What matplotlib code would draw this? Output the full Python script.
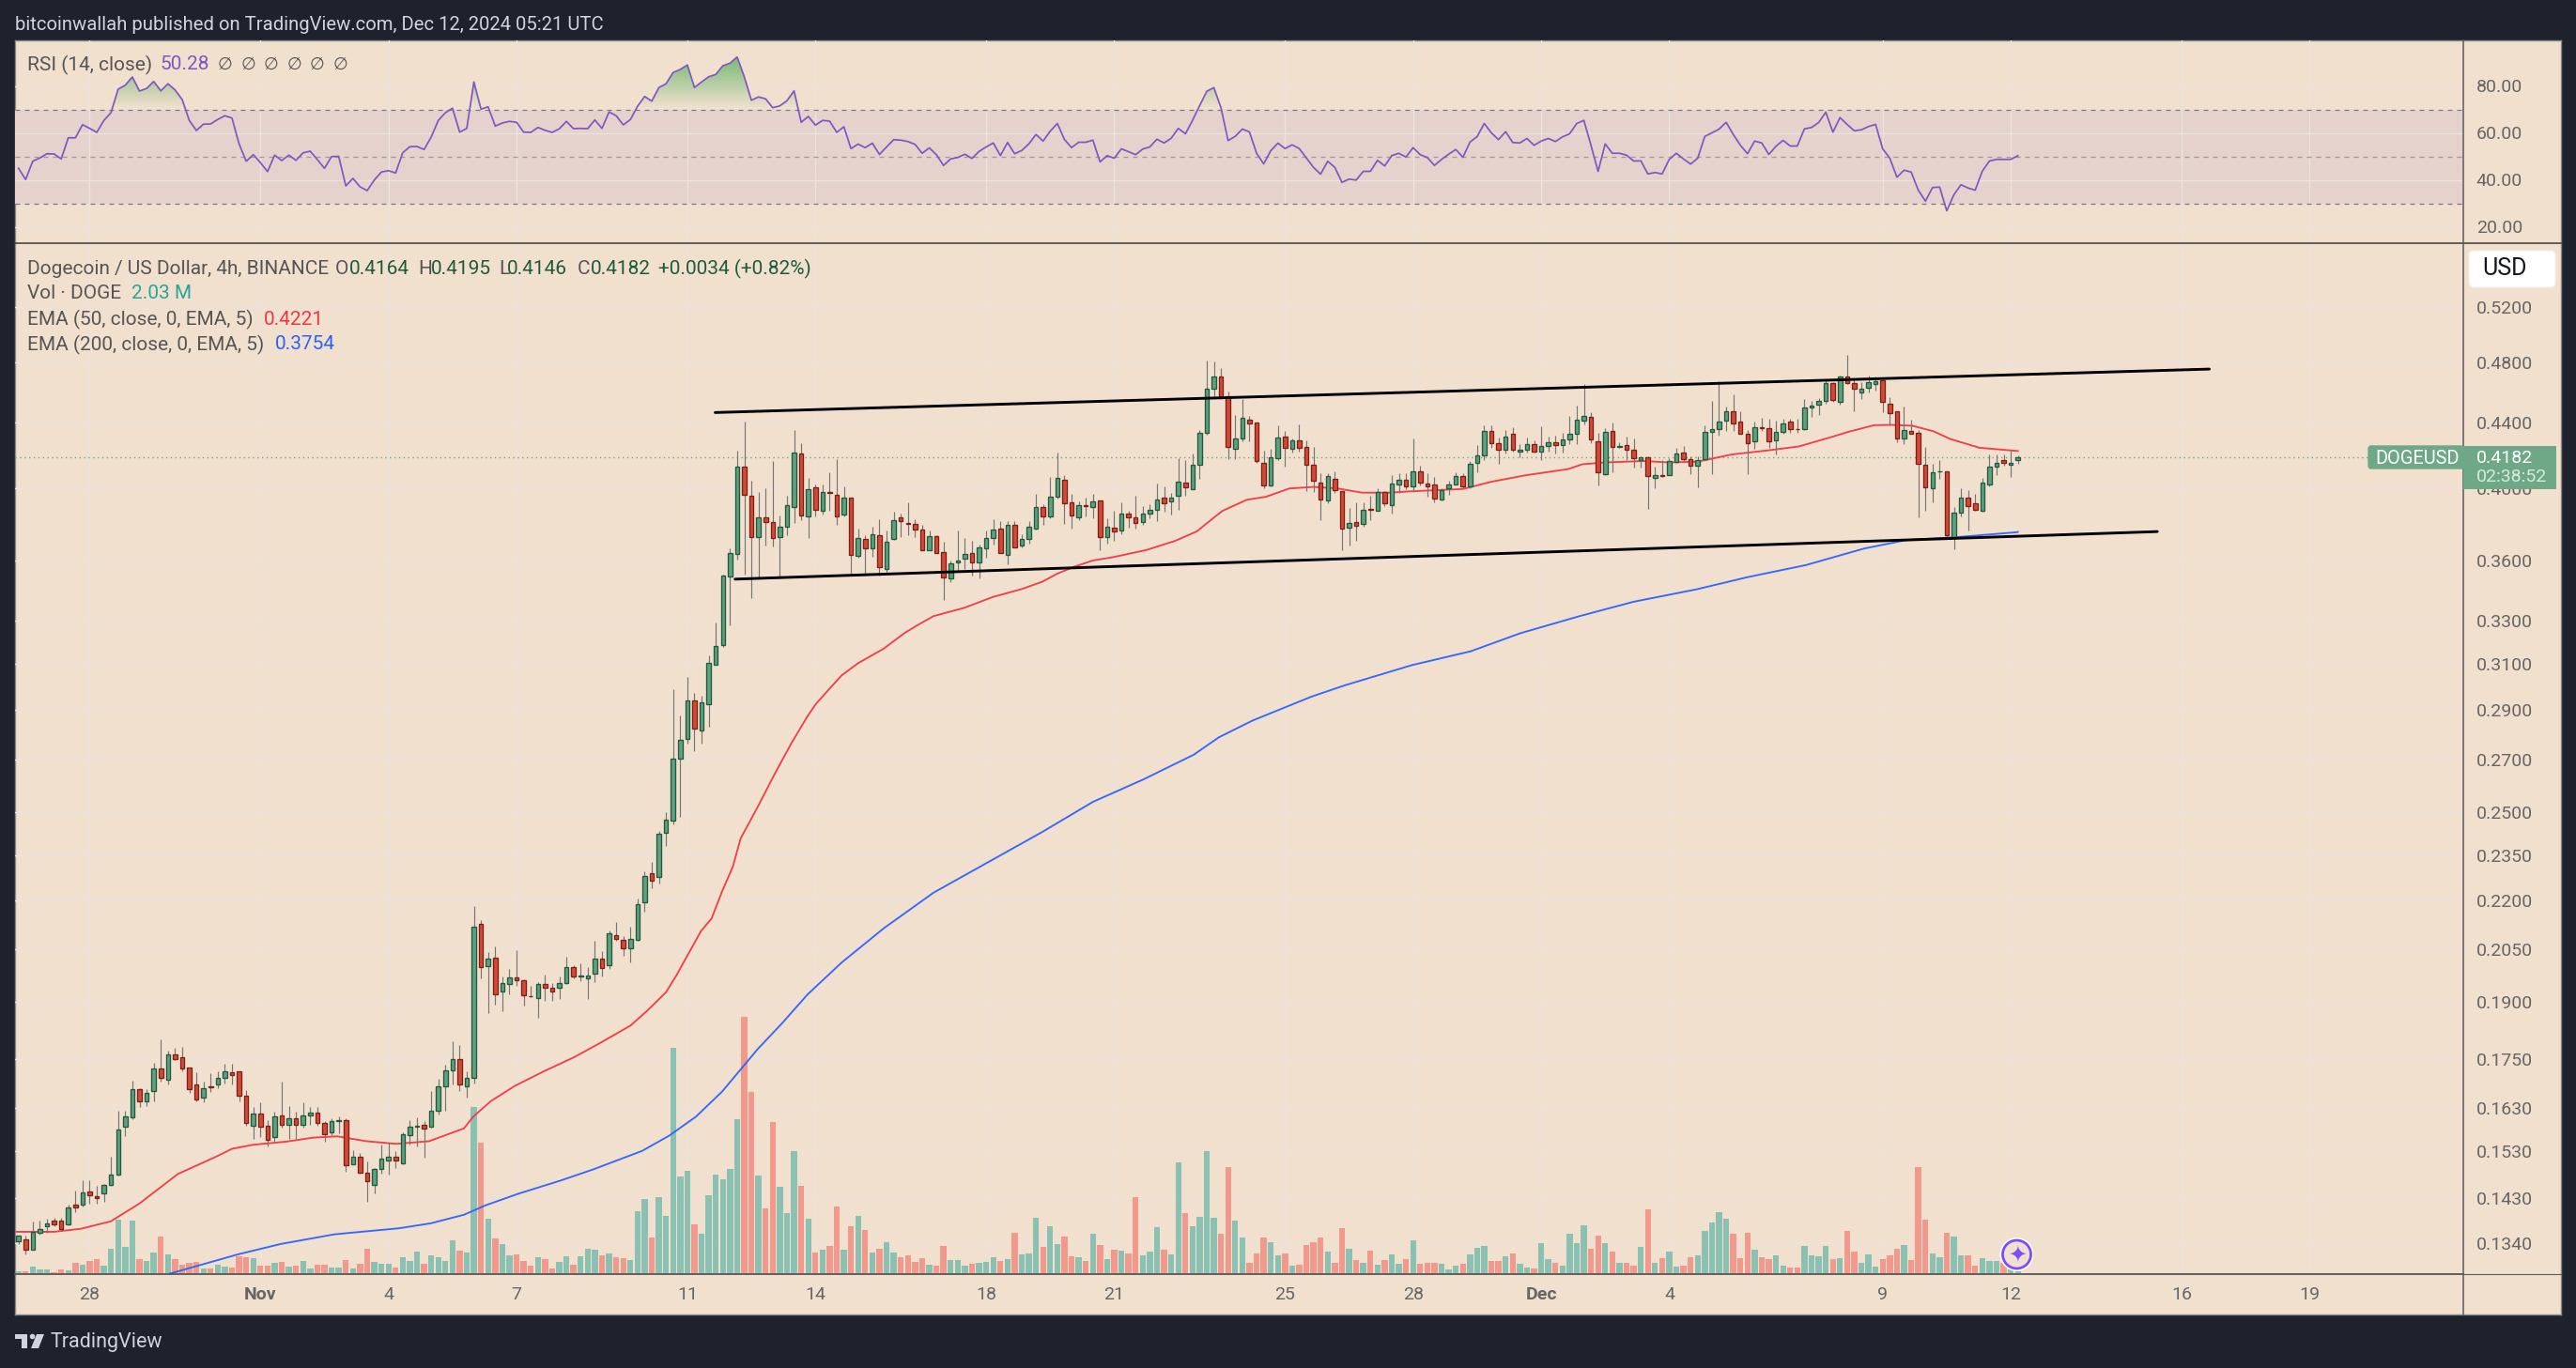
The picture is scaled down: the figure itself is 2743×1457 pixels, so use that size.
import numpy as np
import matplotlib
matplotlib.use('Agg')
import matplotlib.pyplot as plt
from matplotlib.lines import Line2D
from matplotlib.path import Path
from matplotlib.patches import Rectangle, FancyBboxPatch, Polygon, Circle
from matplotlib.ticker import FixedLocator, FixedFormatter, NullLocator

plt.rcParams['font.family'] = ['Roboto', 'DejaVu Sans']

W, H = 2743, 1457

# 4h candles, first bar is ten bars before the "28" tick
first_bar = -10

opens = [
    .1344, .1347, .1327, .1360, .1373, .1384, .1384, .1376, .1417, .1416,
    .1444, .1435, .1439, .1458, .1479, .1586, .1608, .1675, .1645, .1671,
    .1725, .1698, .1760, .1754, .1727, .1685, .1654, .1682, .1686, .1702,
    .1715, .1718, .1658, .1589, .1616, .1588, .1563, .1611, .1590, .1606,
    .1591, .1612, .1619, .1594, .1574, .1598, .1602, .1503, .1518, .1484,
    .1458, .1491, .1511, .1519, .1504, .1567, .1586, .1591, .1586, .1624,
    .1681, .1722, .1748, .1682, .1702, .2127, .2001, .2027, .1929, .1950,
    .1970, .1962, .1916, .1911, .1951, .1940, .1939, .1953, .1999, .1972,
    .1966, .1979, .2023, .2004, .2094, .2078, .2055, .2080, .2195, .2290,
    .2276, .2428, .2472, .2703, .2782, .2942, .2816, .2925, .3096, .3186,
    .3521, .3636, .4127, .3958, .3724, .3834, .3808, .3728, .3781, .3890,
    .4206, .3838, .4005, .3869, .3976, .3964, .3850, .3943, .3626, .3715,
    .3667, .3736, .3560, .3717, .3834, .3801, .3796, .3766, .3658, .3731,
    .3648, .3511, .3594, .3610, .3643, .3590, .3667, .3719, .3772, .3631,
    .3792, .3683, .3715, .3771, .3892, .3838, .3952, .4050, .3917, .3833,
    .3902, .3891, .3927, .3726, .3775, .3763, .3855, .3834, .3807, .3853,
    .3874, .3945, .3924, .3954, .4033, .3993, .4136, .4334, .4619, .4702,
    .4571, .4232, .4300, .4415, .4396, .4149, .4015, .4176, .4310, .4235,
    .4286, .4245, .4136, .4031, .3928, .4053, .3984, .3776, .3808, .3799,
    .3882, .3873, .3978, .3902, .4020, .4046, .4009, .4099, .4027, .4022,
    .3933, .3998, .4020, .4072, .4009, .4147, .4192, .4348, .4271, .4228,
    .4325, .4215, .4228, .4265, .4216, .4251, .4277, .4257, .4293, .4329,
    .4412, .4433, .4283, .4081, .4348, .4245, .4259, .4230, .4164, .4182,
    .4059, .4077, .4077, .4155, .4212, .4169, .4130, .4169, .4340, .4358,
    .4412, .4471, .4402, .4325, .4281, .4372, .4366, .4284, .4339, .4402,
    .4360, .4358, .4494, .4512, .4537, .4659, .4533, .4702, .4659, .4597,
    .4625, .4650, .4679, .4521, .4471, .4299, .4348, .4331, .4138, .3998,
    .4097, .4099, .3728, .3858, .3948, .3912, .3869, .4020, .4125, .4165,
    .4136, .4164,
]

closes = [
    .1354, .1327, .1362, .1368, .1378, .1376, .1367, .1411, .1410, .1442,
    .1436, .1430, .1458, .1480, .1579, .1609, .1674, .1645, .1665, .1725,
    .1703, .1760, .1748, .1726, .1675, .1650, .1677, .1680, .1702, .1718,
    .1710, .1658, .1595, .1616, .1586, .1557, .1609, .1591, .1606, .1591,
    .1613, .1619, .1594, .1568, .1600, .1602, .1500, .1518, .1483, .1466,
    .1492, .1514, .1518, .1510, .1568, .1587, .1588, .1581, .1624, .1681,
    .1720, .1748, .1685, .1702, .2120, .1998, .2022, .1921, .1954, .1970,
    .1961, .1919, .1915, .1951, .1939, .1929, .1954, .1999, .1972, .1975,
    .1973, .2023, .1996, .2099, .2081, .2055, .2082, .2189, .2280, .2265,
    .2424, .2473, .2704, .2776, .2942, .2824, .2934, .3104, .3183, .3524,
    .3643, .4127, .3962, .3724, .3834, .3806, .3719, .3782, .3902, .4212,
    .3843, .3995, .3875, .3979, .3970, .3838, .3948, .3631, .3720, .3667,
    .3741, .3570, .3700, .3819, .3811, .3797, .3769, .3658, .3731, .3643,
    .3516, .3588, .3600, .3638, .3590, .3669, .3720, .3767, .3643, .3792,
    .3672, .3715, .3783, .3892, .3838, .3952, .4061, .3915, .3843, .3902,
    .3900, .3922, .3726, .3785, .3758, .3855, .3833, .3802, .3855, .3876,
    .3934, .3912, .3945, .4039, .4004, .4136, .4336, .4621, .4702, .4559,
    .4244, .4301, .4427, .4394, .4158, .4018, .4182, .4304, .4239, .4286,
    .4242, .4136, .4041, .3933, .4071, .3988, .3772, .3804, .3790, .3875,
    .3878, .3978, .3911, .4024, .4046, .4011, .4099, .4031, .4009, .3938,
    .3990, .4022, .4072, .4009, .4143, .4194, .4348, .4269, .4228, .4313,
    .4228, .4229, .4265, .4216, .4253, .4277, .4257, .4295, .4327, .4414,
    .4440, .4293, .4092, .4337, .4245, .4249, .4228, .4175, .4182, .4070,
    .4077, .4070, .4160, .4204, .4169, .4132, .4165, .4339, .4360, .4404,
    .4471, .4394, .4329, .4269, .4372, .4364, .4281, .4337, .4390, .4358,
    .4358, .4496, .4508, .4539, .4659, .4543, .4702, .4656, .4619, .4617,
    .4661, .4672, .4532, .4457, .4299, .4350, .4329, .4142, .4003, .4094,
    .4099, .3734, .3860, .3948, .3900, .3874, .4033, .4127, .4149, .4147,
    .4149, .4182,
]

highs = [
    .1355, .1355, .1383, .1384, .1388, .1390, .1390, .1416, .1445, .1468,
    .1468, .1455, .1460, .1518, .1624, .1624, .1696, .1677, .1675, .1740,
    .1800, .1771, .1779, .1781, .1727, .1715, .1692, .1713, .1719, .1737,
    .1737, .1719, .1673, .1631, .1642, .1602, .1620, .1692, .1635, .1620,
    .1642, .1631, .1631, .1599, .1606, .1609, .1605, .1532, .1527, .1508,
    .1494, .1545, .1549, .1531, .1574, .1602, .1608, .1599, .1669, .1700,
    .1735, .1796, .1786, .1719, .2183, .2139, .2042, .2059, .1971, .1994,
    .2047, .1963, .1945, .1955, .1978, .1954, .1971, .2029, .2003, .2010,
    .1998, .2076, .2045, .2107, .2134, .2091, .2120, .2207, .2297, .2329,
    .2435, .2501, .2988, .2876, .3041, .2974, .2963, .3141, .3291, .3530,
    .3665, .4223, .4404, .4044, .3979, .4002, .4163, .3846, .3955, .4350,
    .4270, .4057, .4020, .4020, .4093, .4169, .4011, .3947, .3773, .3734,
    .3783, .3825, .3760, .3864, .3855, .3921, .3823, .3795, .3763, .3734,
    .3700, .3600, .3763, .3720, .3708, .3686, .3760, .3822, .3812, .3812,
    .3812, .3743, .3812, .3966, .3909, .4065, .4212, .4079, .3965, .3926,
    .3945, .3969, .3930, .3829, .3872, .3916, .3872, .3957, .3898, .3909,
    .4029, .4011, .3970, .4176, .4167, .4206, .4354, .4810, .4804, .4758,
    .4602, .4445, .4550, .4442, .4400, .4225, .4235, .4380, .4343, .4298,
    .4385, .4286, .4248, .4085, .4090, .4099, .3985, .3889, .3921, .3916,
    .3957, .4002, .3984, .4076, .4085, .4090, .4299, .4134, .4085, .4067,
    .4002, .4042, .4094, .4088, .4158, .4255, .4384, .4384, .4305, .4354,
    .4368, .4265, .4305, .4285, .4374, .4311, .4315, .4335, .4443, .4505,
    .4650, .4467, .4335, .4364, .4400, .4275, .4309, .4301, .4190, .4190,
    .4127, .4168, .4176, .4241, .4251, .4186, .4186, .4384, .4540, .4669,
    .4504, .4585, .4473, .4354, .4404, .4429, .4425, .4408, .4425, .4421,
    .4421, .4554, .4539, .4560, .4675, .4665, .4706, .4852, .4685, .4665,
    .4706, .4700, .4686, .4561, .4471, .4504, .4415, .4354, .4245, .4145,
    .4164, .4101, .3893, .4002, .3991, .3965, .4057, .4201, .4201, .4201,
    .4222, .4195,
]

lows = [
    .1338, .1318, .1327, .1357, .1360, .1373, .1364, .1375, .1401, .1412,
    .1419, .1419, .1423, .1455, .1478, .1565, .1604, .1631, .1635, .1646,
    .1694, .1685, .1746, .1719, .1665, .1646, .1642, .1667, .1677, .1688,
    .1685, .1646, .1588, .1559, .1563, .1541, .1552, .1584, .1559, .1559,
    .1584, .1591, .1588, .1551, .1567, .1570, .1485, .1501, .1481, .1423,
    .1440, .1481, .1479, .1494, .1501, .1545, .1541, .1516, .1584, .1615,
    .1624, .1685, .1669, .1654, .1688, .1965, .1869, .1892, .1874, .1921,
    .1945, .1889, .1913, .1857, .1904, .1904, .1908, .1949, .1965, .1958,
    .1908, .1956, .1971, .1992, .2076, .2032, .2013, .2076, .2167, .2242,
    .2257, .2382, .2456, .2484, .2763, .2733, .2763, .2832, .3096, .3180,
    .3277, .3605, .3527, .3413, .3512, .3683, .3674, .3511, .3734, .3803,
    .3817, .3722, .3837, .3848, .3870, .3795, .3840, .3522, .3617, .3526,
    .3622, .3526, .3536, .3710, .3727, .3734, .3725, .3657, .3655, .3640,
    .3401, .3490, .3544, .3558, .3526, .3511, .3614, .3684, .3640, .3580,
    .3670, .3670, .3690, .3768, .3795, .3829, .3940, .3798, .3772, .3820,
    .3838, .3829, .3658, .3690, .3708, .3743, .3775, .3772, .3795, .3829,
    .3815, .3864, .3852, .3874, .3958, .3993, .4054, .4320, .4550, .4555,
    .4172, .4172, .4283, .4283, .4150, .4002, .4011, .4164, .4125, .4214,
    .4218, .3984, .3979, .3817, .3915, .3975, .3658, .3683, .3708, .3781,
    .3820, .3869, .3895, .3855, .3975, .3993, .3976, .4017, .3950, .3920,
    .3929, .3962, .4020, .4002, .4000, .4094, .4164, .4241, .4145, .4206,
    .4216, .4182, .4210, .4210, .4164, .4216, .4206, .4210, .4261, .4261,
    .4388, .4269, .4015, .4079, .4094, .4239, .4164, .4121, .4121, .3884,
    .4002, .4068, .4075, .4149, .4162, .4083, .4005, .4167, .4081, .4315,
    .4348, .4348, .4325, .4083, .4232, .4344, .4241, .4200, .4329, .4335,
    .4335, .4354, .4435, .4446, .4519, .4533, .4512, .4654, .4473, .4550,
    .4596, .4607, .4467, .4384, .4275, .4261, .4325, .3835, .3873, .3917,
    .4053, .3727, .3659, .3842, .3763, .3870, .3867, .4009, .4075, .4130,
    .4068, .4146,
]

# volume in millions of DOGE, last bar is the 2.03 M from the legend
volumes = [
    2, 2, 7, 4, 4, 1, 4, 3, 11, 9,
    13, 15, 8, 26, 57, 28, 56, 15, 13, 22,
    39, 20, 15, 9, 11, 12, 5, 5, 9, 7,
    6, 18, 17, 16, 8, 8, 11, 12, 7, 8,
    13, 5, 9, 9, 6, 6, 14, 5, 10, 26,
    12, 10, 10, 6, 17, 13, 23, 10, 19, 17,
    13, 35, 24, 22, 177, 139, 58, 37, 31, 19,
    20, 13, 8, 17, 15, 5, 12, 18, 9, 18,
    26, 25, 19, 21, 17, 16, 14, 66, 79, 38,
    81, 61, 240, 103, 109, 52, 42, 83, 105, 100,
    111, 164, 273, 193, 104, 69, 161, 92, 64, 130,
    93, 58, 22, 25, 29, 71, 25, 50, 61, 46,
    22, 26, 33, 22, 17, 19, 12, 16, 9, 8,
    29, 14, 14, 8, 10, 11, 12, 17, 13, 15,
    43, 20, 21, 59, 28, 50, 31, 39, 18, 17,
    13, 42, 30, 15, 25, 24, 21, 81, 19, 23,
    49, 25, 20, 118, 64, 50, 60, 130, 59, 42,
    113, 56, 38, 11, 21, 38, 33, 19, 21, 8,
    9, 30, 33, 38, 23, 11, 48, 26, 14, 11,
    24, 9, 14, 20, 10, 15, 35, 10, 11, 11,
    10, 4, 8, 10, 20, 27, 29, 13, 13, 18,
    21, 10, 6, 5, 32, 15, 11, 8, 42, 32,
    51, 26, 40, 32, 23, 11, 11, 8, 28, 68,
    11, 16, 23, 7, 8, 17, 19, 45, 54, 65,
    58, 42, 16, 43, 25, 17, 15, 19, 8, 6,
    6, 29, 19, 18, 29, 15, 16, 45, 23, 11,
    20, 7, 15, 19, 26, 30, 14, 113, 57, 21,
    17, 43, 39, 19, 19, 8, 16, 13, 13, 11,
    4, 2.03,
]

rsi_values = [
    44.9, 40.1, 47.9, 49.3, 51.1, 51.0, 48.9, 57.9, 57.9, 63.5,
    61.9, 60.2, 65.3, 68.6, 78.6, 80.3, 83.8, 77.8, 78.9, 81.9,
    77.9, 80.9, 78.3, 74.2, 65.3, 61.0, 63.7, 63.8, 65.7, 67.3,
    66.3, 55.3, 47.9, 50.7, 47.3, 43.5, 50.5, 48.2, 50.5, 48.3,
    51.5, 52.2, 48.6, 44.9, 49.9, 50.0, 37.4, 40.6, 37.0, 35.4,
    39.9, 43.3, 43.9, 42.9, 51.5, 54.1, 54.2, 52.9, 58.2, 65.3,
    68.6, 70.5, 60.3, 61.9, 81.7, 70.1, 71.1, 62.9, 64.2, 64.9,
    64.5, 60.3, 60.2, 62.3, 61.1, 60.2, 61.7, 64.9, 61.8, 61.9,
    61.8, 65.5, 61.9, 68.9, 67.3, 63.4, 65.7, 71.3, 75.5, 73.5,
    79.3, 80.9, 85.7, 87.0, 88.9, 79.3, 81.7, 83.9, 84.9, 88.6,
    89.7, 92.3, 83.9, 73.9, 75.3, 74.5, 70.7, 71.5, 73.7, 77.9,
    64.5, 67.0, 63.3, 65.3, 65.0, 60.2, 62.6, 53.3, 55.2, 53.7,
    55.6, 50.8, 54.0, 57.1, 56.9, 56.3, 55.1, 51.3, 53.6, 50.7,
    46.1, 48.9, 49.5, 50.9, 49.1, 52.1, 54.0, 55.7, 50.3, 55.9,
    51.1, 52.5, 55.3, 59.3, 56.5, 60.7, 64.0, 57.2, 53.7, 56.0,
    56.0, 56.9, 47.6, 50.3, 49.2, 53.2, 52.0, 50.7, 53.1, 54.0,
    57.3, 55.7, 57.7, 61.9, 59.6, 65.3, 71.6, 77.7, 79.3, 70.7,
    56.7, 58.5, 61.6, 60.4, 51.3, 46.8, 52.4, 55.6, 53.3, 54.9,
    53.3, 49.3, 45.3, 42.4, 47.9, 45.3, 38.9, 40.3, 39.9, 43.6,
    43.6, 48.3, 45.9, 50.3, 51.3, 49.7, 53.7, 50.7, 49.5, 46.1,
    48.7, 50.9, 52.9, 49.6, 56.1, 58.4, 64.0, 60.0, 57.1, 60.5,
    55.9, 55.7, 57.6, 54.7, 56.5, 57.6, 56.3, 58.3, 59.6, 64.0,
    65.3, 54.7, 43.6, 55.3, 51.3, 51.3, 50.5, 48.0, 48.1, 42.5,
    43.1, 42.5, 48.7, 51.3, 48.9, 46.7, 49.2, 58.5, 60.0, 61.6,
    64.5, 59.3, 54.7, 51.1, 56.5, 55.7, 50.8, 54.3, 56.8, 54.4,
    54.4, 61.7, 62.3, 64.4, 68.8, 60.3, 66.5, 63.6, 60.9, 61.3,
    62.7, 63.6, 53.2, 49.2, 41.1, 44.1, 43.3, 35.6, 30.9, 36.7,
    36.9, 26.8, 33.6, 37.9, 36.5, 35.6, 43.7, 48.0, 48.7, 48.7,
    48.7, 50.28,
]

# EMAs read at their bends (bar number, price)
ema50_bars = [-10.3, -5, -1.2, 3, 7, 12.4, 17.7, 20, 23, 27.6, 31.4, 34.8, 38.9, 43.1, 47.7,
              52.6, 53.9, 56.4, 59.8, 63.9, 68.1, 71.5, 76, 78.3, 81, 82.5, 84.4, 85.9, 87.4, 88.9,
              90.4, 91.5, 92.7, 93.9, 96.2, 98.6, 100.9, 102.1, 103.3, 104.5, 105.7, 108, 111.6,
              114.5, 116.2, 118.6, 122.9, 126.9, 131, 133.9,
              136, 138.4, 141, 143.8, 148.5, 152.5, 155.6, 158, 159.2, 162.6, 165.3, 168.6,
              172, 175.4, 178.8, 182.8, 185.4, 193, 197.1, 201.8, 207.8, 209.8, 213.1, 218.4,
              221.9, 226, 230.8, 236.1, 240.2, 244.3, 247.2, 250.8, 253.2, 256.2, 259.1,
              261.5, 265.6, 271]
ema50_vals = [.1362, .1362, .1368, .1383, .1419, .1481, .1518, .1536, .1545, .1552, .1561, .1564,
              .1553, .1547, .1553, .1582, .1609, .1646, .1683, .1719, .1754, .1788, .1836, .1875,
              .1927, .1976, .2047, .2105, .2144, .2231, .2312, .2409, .2464, .2521, .2640, .2763,
              .2875, .2927, .2968, .3009, .3050, .3104, .3170, .3242, .3277,
              .3323, .3363, .3416, .3456, .3493, .3534, .3570, .3602, .3619, .3657, .3705, .3757,
              .3833, .3870, .3933, .3950, .3998, .4007, .3998, .3974, .3974, .3981, .3995, .4038,
              .4075, .4112, .4141, .4152, .4160, .4152, .4156, .4200, .4226, .4249, .4301, .4340,
              .4382, .4384, .4378, .4344, .4295, .4241, .4221]

ema200_bars = [11.3, 20.8, 26.8, 34.4, 43.5, 48, 52.6, 55.6, 60.2, 66.2, 70.8, 77.6, 81.4, 85.2,
               88.9, 93.9, 97.3, 100.9, 105.7, 111.6, 118.6, 126.9, 133.9, 141, 148.1, 155.2,
               158.7, 163.4, 171.7, 176.4, 185.8, 194.1, 201.1, 209.4, 217, 225.9, 233, 241.2,
               249.4, 255.3, 262.4, 270.7, 271]
ema200_vals = [.1282, .1318, .1338, .1357, .1369, .1379, .1396, .1415, .1439, .1467, .1491, .1531,
               .1565, .1609, .1669, .1775, .1842, .1921, .2012, .2114, .2226, .2335, .2431, .2539,
               .2623, .2719, .2788, .2856, .2957, .3006, .3095, .3158, .3242, .3323, .3393, .3455,
               .3516, .3578, .3665, .3710, .3726, .3752, .3754]

# hand drawn channel lines (bar number, price)
upper_bars = [87.9, 297.9]
upper_vals = [.4463, .4753]
lower_bars = [90.7, 290.6]
lower_vals = [.3506, .3756]

price_ticks = [.52, .48, .44, .40, .36, .33, .31, .29, .27, .25, .235, .22, .205, .19, .175, .163, .153, .143, .134]
price_labels = ['0.5200', '0.4800', '0.4400', '0.4000', '0.3600', '0.3300', '0.3100', '0.2900', '0.2700', '0.2500',
                '0.2350', '0.2200', '0.2050', '0.1900', '0.1750', '0.1630', '0.1530', '0.1430', '0.1340']
rsi_ticks = [20, 40, 60, 80]
rsi_labels = ['20.00', '40.00', '60.00', '80.00']
day_ticks = [0, 24, 42, 60, 84, 102, 126, 144, 168, 186, 204, 222, 252, 270, 294, 312]
day_labels = ['28', 'Nov', '4', '7', '11', '14', '18', '21', '25', '28', 'Dec', '4', '9', '12', '16', '19']

last_price = 0.4182

# colours
DARK = '#1e222d'
BG = '#f2e0cf'
GRID = '#ebe3dc'
BAND = '#e5d2cc'
AXIS_TEXT = '#666666'
LEGEND_TEXT = '#555555'
VALUE_GREEN = '#1d5b3a'
UP_FILL, UP_EDGE = '#5fa07f', '#1e5a3e'
DOWN_FILL, DOWN_EDGE = '#d24a37', '#7d1f15'
UP_VOL, DOWN_VOL = '#8bc1b2', '#f2998d'
WICK = '#757575'
TAG = '#6fa886'
FS = 15
AXIS_FS = 14


def fx(px):
    return px / W


def fy(py):
    return 1 - py / H


def pane(x0, y0, x1, y1, zorder):
    return fig.add_axes([fx(x0), fy(y1), (x1 - x0) / W, (y1 - y0) / H], zorder=zorder)


def label(px, py, s, color=LEGEND_TEXT, **kw):
    kw.setdefault('fontsize', FS)
    kw.setdefault('va', 'center')
    fig.text(fx(px), fy(py), s, color=color, zorder=20, **kw)


def rule(x0, y0, x1, y1, color, lw):
    fig.add_artist(Line2D([fx(x0), fx(x1)], [fy(y0), fy(y1)], color=color, lw=lw, zorder=15))


bars = first_bar + np.arange(len(opens))
opens, closes = np.array(opens), np.array(closes)
highs, lows = np.array(highs), np.array(lows)
rsi_values = np.array(rsi_values)
up = closes >= opens

fig = plt.figure(figsize=(W / 100, H / 100), dpi=100, facecolor=DARK)

# light panel behind everything
back = pane(16, 43, 2727, 1400, -1)
back.set_facecolor(BG)
back.set_xticks([])
back.set_yticks([])
for s in back.spines.values():
    s.set_color('#8a8a8a')
    s.set_linewidth(1)

xlim = (-10.49, 333.6)

# RSI pane
ax_rsi = pane(16, 43, 2623, 259, 1)
ax_rsi.patch.set_alpha(0)
ax_rsi.set_xlim(xlim)
ax_rsi.set_ylim(13.0, 99.4)
ax_rsi.axhspan(30, 70, color=BAND, lw=0, zorder=0.5)
ax_rsi.set_yticks(rsi_ticks)
ax_rsi.set_yticklabels(rsi_labels)
ax_rsi.yaxis.tick_right()
ax_rsi.set_xticks(day_ticks)
ax_rsi.set_xticklabels([])
ax_rsi.tick_params(axis='both', length=0, pad=10, labelsize=AXIS_FS, labelcolor=AXIS_TEXT)
ax_rsi.grid(True, color=GRID, lw=1.0, zorder=1)
ax_rsi.set_axisbelow(True)
for v, c in zip([70, 50, 30], ['#787b86', '#a09a98', '#787b86']):
    ax_rsi.axhline(v, color=c, lw=0.9, ls=(0, (4, 4)), zorder=2)

# green gradient where RSI is above 70
fill = ax_rsi.fill_between(bars, rsi_values, 70, where=rsi_values >= 70, interpolate=True, color='none', lw=0)
clip = Path.make_compound_path(*fill.get_paths())
grad = np.zeros((64, 2, 4))
grad[..., 0], grad[..., 1], grad[..., 2] = 0.42, 0.72, 0.42
grad[..., 3] = np.linspace(0, 0.95, 64)[:, None]
im = ax_rsi.imshow(grad, extent=(xlim[0], xlim[1], 70, 93), origin='lower', aspect='auto', zorder=2.5)
im.set_clip_path(clip, transform=ax_rsi.transData)
ax_rsi.set_xlim(xlim)
ax_rsi.set_ylim(13.0, 99.4)
ax_rsi.plot(bars, rsi_values, color='#7e57c2', lw=1.25, zorder=3)

# price pane: grid and tick labels at the bottom, then volume, then candles on top
price_lim = (0.1281, 0.5704)
ax_grid = pane(16, 259, 2623, 1357, 1)
ax_grid.patch.set_alpha(0)
ax_grid.set_xlim(xlim)
ax_grid.set_yscale('log')
ax_grid.set_ylim(price_lim)
ax_grid.yaxis.set_major_locator(FixedLocator(price_ticks))
ax_grid.yaxis.set_major_formatter(FixedFormatter(price_labels))
ax_grid.yaxis.set_minor_locator(NullLocator())
ax_grid.yaxis.tick_right()
ax_grid.set_xticks(day_ticks)
ax_grid.set_xticklabels(day_labels)
ax_grid.tick_params(axis='y', length=0, pad=10, labelsize=AXIS_FS, labelcolor=AXIS_TEXT)
ax_grid.tick_params(axis='x', length=0, pad=9, labelsize=AXIS_FS, labelcolor=AXIS_TEXT)
for t in ax_grid.get_xticklabels():
    if t.get_text() in ('Nov', 'Dec'):
        t.set_fontweight('bold')
ax_grid.grid(True, color=GRID, lw=1.0)

ax_vol = pane(16, 259, 2623, 1357, 2)
ax_vol.patch.set_alpha(0)
ax_vol.set_xlim(xlim)
ax_vol.set_ylim(-1, 1097)
ax_vol.set_xticks([])
ax_vol.set_yticks([])
ax_vol.bar(bars, volumes, width=0.84, color=[UP_VOL if u else DOWN_VOL for u in up], lw=0)

ax = pane(16, 259, 2623, 1357, 3)
ax.patch.set_alpha(0)
ax.set_xlim(xlim)
ax.set_yscale('log')
ax.set_ylim(price_lim)
ax.set_xticks([])
ax.yaxis.set_major_locator(NullLocator())
ax.yaxis.set_minor_locator(NullLocator())

ax.axhline(last_price, color=TAG, lw=1, ls=(0, (1, 2.5)), zorder=1)
ax.plot(ema50_bars, ema50_vals, color='#f23645', lw=1.35, alpha=0.95, zorder=2)
ax.plot(ema200_bars, ema200_vals, color='#2962ff', lw=1.35, alpha=0.95, zorder=2)
ax.vlines(bars, lows, highs, color=WICK, lw=0.85, zorder=3)
ax.bar(bars, np.abs(closes - opens), bottom=np.minimum(opens, closes), width=0.6,
       color=[UP_FILL if u else DOWN_FILL for u in up],
       edgecolor=[UP_EDGE if u else DOWN_EDGE for u in up], lw=0.95, zorder=4)
ax.plot(upper_bars, upper_vals, color='black', lw=2.1, solid_capstyle='round', zorder=5)
ax.plot(lower_bars, lower_vals, color='black', lw=2.1, solid_capstyle='round', zorder=5)

for a in (ax_rsi, ax_grid, ax_vol, ax):
    for s in a.spines.values():
        s.set_visible(False)

# pane separators
rule(16, 259, 2727, 259, '#3a3a3a', 1.1)
rule(16, 1357, 2623, 1357, '#555555', 1.3)
rule(2623, 43, 2623, 1400, '#5a5a5a', 1.1)
rule(2623, 1357, 2727, 1357, '#5a5a5a', 0.8)

# header and footer
label(16, 26, 'bitcoinwallah published on TradingView.com, Dec 12, 2024 05:21 UTC', color='#d1d4dc', fontsize=14.6)
label(53, 1430, 'TradingView', color='#d1d4dc', fontsize=15.5)
fig.add_artist(Polygon([(fx(16), fy(1421)), (fx(29), fy(1421)), (fx(29), fy(1436)), (fx(23), fy(1436)),
                        (fx(23), fy(1426)), (fx(16), fy(1426))], closed=True, color='#d1d4dc', lw=0, zorder=15))
fig.add_artist(Polygon([(fx(39), fy(1421)), (fx(47), fy(1421)), (fx(41), fy(1436)), (fx(33), fy(1436))],
                       closed=True, color='#d1d4dc', lw=0, zorder=15))
fig.add_artist(Circle((34.5, H - 1423.5), 2.8, transform=None, color='#d1d4dc', lw=0, zorder=15))

# legends
label(29, 69, 'RSI (14, close)')
label(170, 69, '50.28', color='#7e57c2')
for px in [239, 264, 288, 313, 337, 362]:
    label(px, 69, '∅', ha='center', fontsize=13, family=['DejaVu Sans'])

label(29, 286, 'Dogecoin / US Dollar, 4h, BINANCE')
for px, letter, vx, value in [(357, 'O', 372, '0.4164'), (445, 'H', 459, '0.4195'),
                              (531, 'L', 540, '0.4146'), (615, 'C', 629, '0.4182')]:
    label(px, 286, letter)
    label(vx, 286, value, color=VALUE_GREEN)
label(701, 286, '+0.0034 (+0.82%)', color=VALUE_GREEN)
label(29, 313, 'Vol · DOGE')
label(140, 313, '2.03 M', color='#26a69a')
label(29, 340, 'EMA (50, close, 0, EMA, 5)')
label(281, 340, '0.4221', color='#f23645')
label(29, 367, 'EMA (200, close, 0, EMA, 5)')
label(293, 367, '0.3754', color='#2962ff')

# price tags on the right side
fig.add_artist(FancyBboxPatch((fx(2522), fy(499)), 101 / W, 24 / H, boxstyle='round,pad=0,rounding_size=0.001',
                              mutation_aspect=W / H, facecolor=TAG, edgecolor=TAG, lw=1,
                              transform=fig.transFigure, zorder=16))
fig.add_artist(Rectangle((fx(2623), fy(521)), 99 / W, 46 / H, facecolor=TAG, lw=0,
                         transform=fig.transFigure, zorder=16))
label(2529, 488, 'DOGEUSD', color='white', fontsize=14.4)
label(2637, 488, '0.4182', color='white', fontsize=AXIS_FS)
label(2637, 508, '02:38:52', color='#d6ebdc', fontsize=AXIS_FS)

fig.add_artist(FancyBboxPatch((fx(2629), fy(306)), 92 / W, 39 / H, boxstyle='round,pad=0,rounding_size=0.002',
                              mutation_aspect=W / H, facecolor='white', edgecolor='#f7efe8', lw=1,
                              transform=fig.transFigure, zorder=16))
label(2643, 286, 'USD', color='#131722', fontsize=18)

# assistant badge near the last bar
fig.add_artist(Circle((2147.5, H - 1336), 18, transform=None, facecolor='white', lw=0, zorder=16))
fig.add_artist(Circle((2147.5, H - 1336), 15, transform=None, facecolor=BG, edgecolor='#7c4dff', lw=2, zorder=17))
label(2147.5, 1336, '✦', color='#7c4dff', ha='center', fontsize=17, family=['DejaVu Sans'])

fig.savefig('out.png', dpi=100, facecolor=DARK)

print(len(opens), len(closes), len(highs), len(lows), len(volumes), len(rsi_values))
